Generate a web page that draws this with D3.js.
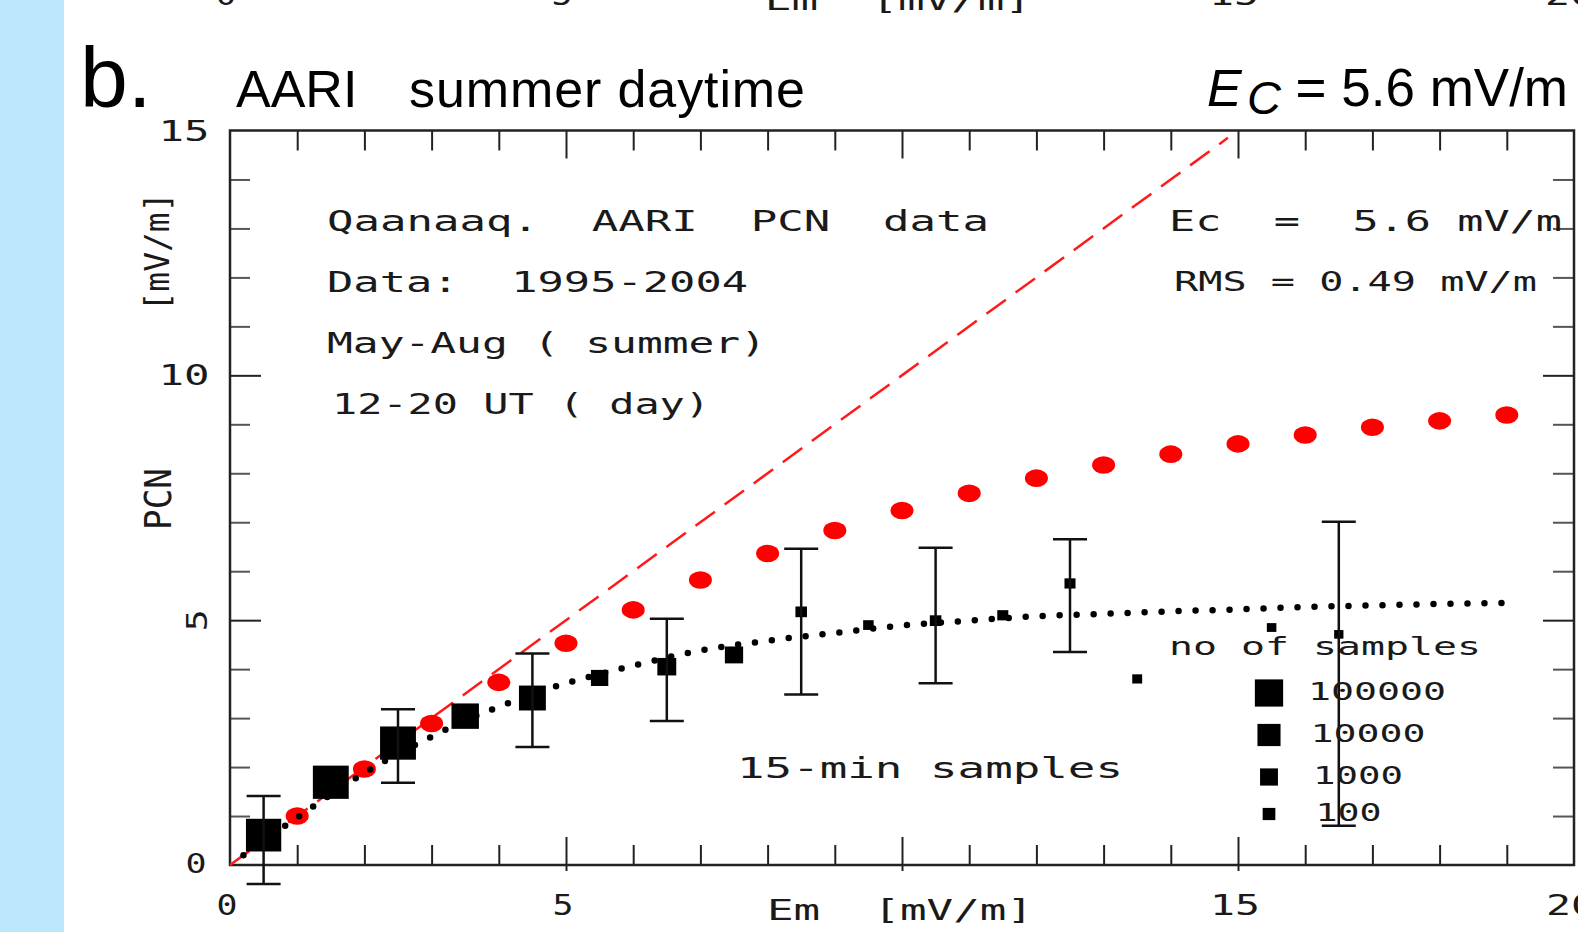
<!DOCTYPE html>
<html>
<head>
<meta charset="utf-8">
<script src="https://cdn.jsdelivr.net/npm/d3@7"></script>
<style>
  body { margin: 0; background: #fff; }
  text { white-space: pre; }
</style>
</head>
<body>
<div id="canvas"></div>
<script>
"use strict"

/* values */
let modelEm = [1, 2, 3, 4, 5, 6, 7, 8, 9, 10, 11, 12, 13, 14, 15, 16, 17, 18, 19];
let modelPcn = [1.00, 1.96, 2.89, 3.73, 4.53, 5.21, 5.82, 6.36, 6.83, 7.24, 7.59, 7.90, 8.17, 8.39, 8.60, 8.78, 8.94, 9.07, 9.19];

let fitEm = [0.2, 1.0, 2.0, 2.5, 3.0, 3.5, 4.0, 4.5, 5.0, 6.0, 7.0, 8.0, 9.0, 10.0, 11.0, 12.0, 13.0, 14.0, 15.0, 16.0, 17.0, 18.0, 19.0];
let fitPcn = [0.2, 0.97, 1.88, 2.27, 2.62, 2.95, 3.23, 3.49, 3.71, 4.07, 4.38, 4.58, 4.74, 4.89, 4.99, 5.08, 5.13, 5.18, 5.22, 5.27, 5.30, 5.33, 5.35];

let meanEm = [0.5, 1.5, 2.5, 3.5, 4.5, 5.5, 6.5, 7.5, 8.5, 9.5, 10.5, 11.5, 12.5, 13.5, 15.5, 16.5];
let meanPcn = [0.61, 1.69, 2.49, 3.04, 3.41, 3.82, 4.05, 4.29, 5.17, 4.90, 4.99, 5.10, 5.75, 3.80, 4.85, 4.71];
let meanCount = [1250000, 1600000, 1600000, 44000, 35000, 600, 1150, 870, 50, 32, 50, 40, 40, 25, 21, 19];

let barEm = [0.5, 2.5, 4.5, 6.5, 8.5, 10.5, 12.5, 16.5];
let barLow = [-0.39, 1.68, 2.41, 2.94, 3.48, 3.71, 4.35, 0.80];
let barHigh = [1.41, 3.18, 4.32, 5.03, 6.46, 6.48, 6.65, 7.01];

let lineEm = [0, 14.85]; /// PCN = Em reference line
let legendCounts = [100000, 10000, 1000, 100];
let xTickLabels = [0, 5, 15, 20];
let yTickLabels = ["15", "10"];
let infoLines = ["Qaanaaq.  AARI  PCN  data", "Data:  1995-2004", "May-Aug ( summer)", "12-20 UT ( day)"];

let W = 1578, H = 932;
let mono = "DejaVu Sans Mono";

let drawing = d3.select("#canvas")
    .append("svg")
    .attr("width", W)
    .attr("height", H);

drawing.append("rect").attr("width", W).attr("height", H).attr("fill", "#fff");
drawing.append("rect") /// light blue strip on the left
    .attr("width", 64).attr("height", H).attr("fill", "#bbe8fc");

let x = d3.scaleLinear().domain([0, 20]).range([230, 1574]);
let y = d3.scaleLinear().domain([0, 15]).range([865, 130.5]);
let size = d3.scaleLog().domain([100, 100000]).range([12.2, 27.2]);

/* helper for the plotter-style text */
function plotText(str, px, py, fs, len, anchor, rot) {
    let t = drawing.append("text")
        .attr("font-family", mono)
        .attr("font-size", fs)
        .attr("fill", "#1a1a1a")
        .attr("text-anchor", anchor || "start")
        .attr("lengthAdjust", "spacingAndGlyphs")
        .text(str);
    if (len) t.attr("textLength", len);
    if (rot) {
        t.attr("transform", "translate(" + px + "," + py + ") rotate(" + rot + ")")
            .attr("y", fs * 0.36);
    } else {
        t.attr("x", px).attr("y", py);
    }
    return t;
}

/* bits of the panel above, cut at the top edge */
xTickLabels.forEach(v => plotText(String(v), x(v) - 4, 5, 28, v < 10 ? 21 : 50, "middle"));
plotText("Em  [mV/m]", x(10) - 4, 10, 28, 266, "middle");

/* title */
drawing.append("text").attr("x", 80).attr("y", 107)
    .attr("font-family", "Liberation Sans").attr("font-size", 86).text("b.");
drawing.append("text").attr("x", 236).attr("y", 107)
    .attr("font-family", "Liberation Sans").attr("font-size", 52).text("AARI");
drawing.append("text").attr("x", 409).attr("y", 107)
    .attr("font-family", "Liberation Sans").attr("font-size", 52).attr("textLength", 396).text("summer daytime");
drawing.append("text").attr("x", 1207).attr("y", 106)
    .attr("font-family", "Liberation Sans").attr("font-size", 52).attr("font-style", "italic").text("E");
drawing.append("text").attr("x", 1247).attr("y", 114)
    .attr("font-family", "Liberation Sans").attr("font-size", 47).attr("font-style", "italic").text("C");
drawing.append("text").attr("x", 1568).attr("y", 106).attr("text-anchor", "end")
    .attr("font-family", "Liberation Sans").attr("font-size", 53).text("= 5.6 mV/m");

/* ticks: minor every unit, major every five, all pointing inwards */
let axisColor = "#222";
function ticks(axis, tr, vals, len) {
    let g = drawing.append("g")
        .attr("transform", tr)
        .call(axis.tickValues(vals).tickSize(len).tickFormat(""));
    g.select(".domain").remove();
    g.selectAll("line").attr("stroke", axisColor).attr("stroke-width", 2);
    return g;
}
let minorX = d3.range(1, 20).filter(v => v % 5 != 0);
let minorY = d3.range(1, 15).filter(v => v % 5 != 0);
ticks(d3.axisBottom(x), "translate(0,865)", minorX, -20);
ticks(d3.axisBottom(x), "translate(0,865)", [5, 10, 15], -28);
ticks(d3.axisBottom(x), "translate(0,865)", [5, 10, 15], 6);
ticks(d3.axisTop(x), "translate(0,130.5)", minorX, -20);
ticks(d3.axisTop(x), "translate(0,130.5)", [5, 10, 15], -28);
ticks(d3.axisLeft(y), "translate(230,0)", minorY, -20).selectAll("line").attr("stroke", "#555");
ticks(d3.axisLeft(y), "translate(230,0)", [5, 10], -31);
ticks(d3.axisRight(y), "translate(1574,0)", minorY, -21).selectAll("line").attr("stroke", "#555");
ticks(d3.axisRight(y), "translate(1574,0)", [5, 10], -31);

drawing.append("rect") /// frame
    .attr("x", x(0)).attr("y", y(15))
    .attr("width", x(20) - x(0)).attr("height", y(0) - y(15))
    .attr("fill", "none").attr("stroke", axisColor).attr("stroke-width", 2.5);

/* tick labels */
xTickLabels.forEach(v => plotText(String(v), x(v) - 3, 915, 28, v < 10 ? 21 : 50, "middle"));
plotText("Em  [mV/m]", x(10) - 2, 920, 28, 266, "middle");
yTickLabels.forEach(v => plotText(v, 184, y(+v) + 10, 28, 51, "middle"));
plotText("5", 197, y(5), 28, 22, "middle", -90);
plotText("0", 196, y(0) + 8, 26, 21, "middle");
plotText("PCN", 157, 499, 38, 62, "middle", -90);
plotText("[mV/m]", 157, 252, 34, 119, "middle", -90);

/* PCN = Em */
drawing.append("path")
    .datum(lineEm)
    .attr("d", d3.line().x(d => x(d)).y(d => y(d)))
    .attr("fill", "none")
    .attr("stroke", "#ff1a1a")
    .attr("stroke-width", 2.5)
    .attr("stroke-dasharray", "24 12");

/* model values, red */
drawing.append("g").selectAll("ellipse")
    .data(modelEm)
    .join("ellipse")
    .attr("cx", d => x(d))
    .attr("cy", (d, i) => y(modelPcn[i]))
    .attr("rx", 11.5)
    .attr("ry", 8.8)
    .attr("fill", "#ff0000");

/* fitted curve, dotted */
drawing.append("path")
    .datum(fitEm.map((d, i) => [d, fitPcn[i]]))
    .attr("d", d3.line().x(d => x(d[0])).y(d => y(d[1])).curve(d3.curveMonotoneX))
    .attr("fill", "none")
    .attr("stroke", "#000")
    .attr("stroke-width", 6.5)
    .attr("stroke-linecap", "round")
    .attr("stroke-dasharray", "0 17");

/* bin means, square size by number of samples */
drawing.append("g").selectAll("rect")
    .data(meanEm)
    .join("rect")
    .attr("x", (d, i) => x(d) - size(meanCount[i]) * 0.54)
    .attr("y", (d, i) => y(meanPcn[i]) - size(meanCount[i]) / 2)
    .attr("width", (d, i) => size(meanCount[i]) * 1.08)
    .attr("height", (d, i) => size(meanCount[i]))
    .attr("fill", "#000");

/* error bars */
let bars = drawing.append("g")
    .attr("stroke", "#111")
    .attr("stroke-width", 2.5);
barEm.forEach((d, i) => {
    bars.append("line").attr("x1", x(d)).attr("x2", x(d)).attr("y1", y(barLow[i])).attr("y2", y(barHigh[i]));
    bars.append("line").attr("x1", x(d) - 17).attr("x2", x(d) + 17).attr("y1", y(barLow[i])).attr("y2", y(barLow[i]));
    bars.append("line").attr("x1", x(d) - 17).attr("x2", x(d) + 17).attr("y1", y(barHigh[i])).attr("y2", y(barHigh[i]));
});

/* text inside the plot */
let infoLen = [662, 421, 439, 378];
infoLines.forEach((s, i) => plotText(s, i == 3 ? 332 : 327, 231 + i * 61, 28, infoLen[i]));
plotText("Ec  =  5.6 mV/m", 1169, 231, 28, 393);
plotText("RMS = 0.49 mV/m", 1174, 291, 26, 363);
plotText("15-min samples", 737, 778, 28, 386);
plotText("no of samples", 1169, 655, 24, 312);

/* legend */
let legendY = [693, 735, 777, 814];
let legendLen = [138, 115, 90, 66];
legendCounts.forEach((c, i) => {
    let s = size(c);
    drawing.append("rect")
        .attr("x", 1269 - s * 0.52).attr("y", legendY[i] - s / 2)
        .attr("width", s * 1.04).attr("height", s)
        .attr("fill", "#000");
    plotText(String(c), 1308 + i * 2.5, legendY[i] + 7, 24, legendLen[i]);
});
</script>
</body>
</html>
